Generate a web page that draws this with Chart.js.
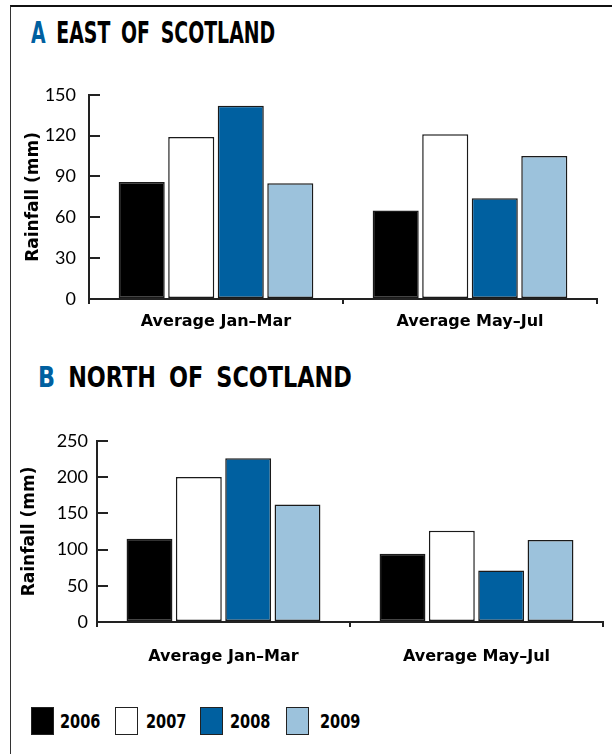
<!DOCTYPE html>
<html>
<head>
<meta charset="utf-8">
<script src="https://cdn.jsdelivr.net/npm/chart.js@4"></script>
<style>
  body { margin: 0; background: #fff; width: 612px; height: 754px; position: relative; overflow: hidden; font-family: Lato, sans-serif; }
  .frame { position: absolute; left: 10px; top: 5px; width: 700px; height: 800px; border-top: 2.5px solid #111; border-left: 1.5px solid #333; }
  .title { position: absolute; font-family: "DejaVu Sans Condensed", "DejaVu Sans", sans-serif; font-weight: bold; color: #000; white-space: nowrap; transform-origin: 0 0; word-spacing: 6px; }
  .title span { color: #0060a0; }
  .box { position: absolute; }
  canvas { position: absolute; left: 0; }
  #legend { position: absolute; top: 707px; left: 0; }
  .sw { position: absolute; top: 0; width: 21px; height: 26px; border: 1.2px solid #222; }
  .lab { position: absolute; top: 2px; font-family: "DejaVu Sans Condensed", "DejaVu Sans", sans-serif; font-weight: bold; font-size: 19px; line-height: 24px; transform: scaleX(0.85); transform-origin: 0 0; }
</style>
</head>
<body>
<div class="frame"></div>
<div class="title" id="titleA" style="left:31px; top:18px; font-size:30px; line-height:30px;"><span>A</span> EAST OF SCOTLAND</div>
<div class="title" id="titleB" style="left:38px; top:364px; font-size:28px; line-height:28px;"><span>B</span> NORTH OF SCOTLAND</div>
<div class="box" style="top:60px; width:612px; height:290px;"><canvas id="eastChart"></canvas></div>
<div class="box" style="top:410px; width:612px; height:280px;"><canvas id="northChart"></canvas></div>
<div id="legend"></div>
<script>
const categories = ['Average Jan–Mar', 'Average May–Jul'];
const years = ['2006', '2007', '2008', '2009'];
const barColors = ['#000000', '#ffffff', '#0060a0', '#9cc2dc'];

// East of Scotland rainfall (mm)
const east2006 = [86, 65];
const east2007 = [119, 121];
const east2008 = [142, 74];
const east2009 = [85, 105];
const eastTicks = [0, 30, 60, 90, 120, 150];

// North of Scotland rainfall (mm)
const north2006 = [115, 94];
const north2007 = [200, 126];
const north2008 = [226, 71];
const north2009 = [162, 113];
const northTicks = [0, 50, 100, 150, 200, 250];

const legendX = [31, 115, 200, 286];
const labelX = [60, 146, 230, 320];

// squeeze the headings to the width they take in the original
function fitWidth(id, w) {
    const el = document.getElementById(id);
    el.style.transform = 'scaleX(' + (w / el.offsetWidth) + ')';
}
fitWidth('titleA', 244);
fitWidth('titleB', 314);

function makeDatasets(series) {
    return series.map((vals, i) => ({
        label: years[i],
        data: vals,
        backgroundColor: barColors[i],
        borderColor: '#1a1a1a',
        borderWidth: 1.5,
        borderSkipped: false,
        categoryPercentage: 0.78,
        barPercentage: 0.93
    }));
}

function makeChart(id, series, ticks, opts) {
    const ctx = document.getElementById(id).getContext('2d');
    return new Chart(ctx, {
        type: 'bar',
        data: { labels: categories, datasets: makeDatasets(series) },
        options: {
            responsive: true,
            maintainAspectRatio: false,
            animation: false,
            layout: { padding: opts.padding },
            plugins: { legend: { display: false }, tooltip: { enabled: false } },
            scales: {
                x: {
                    afterFit: s => { s.height = opts.xHeight; },
                    grid: { drawOnChartArea: false, tickLength: 5, color: '#222', lineWidth: 2 },
                    border: { display: true, color: '#222', width: 2 },
                    ticks: { color: '#000', padding: opts.xPad, font: { family: 'DejaVu Sans', size: 16, weight: 'bold' } }
                },
                y: {
                    min: 0,
                    max: ticks[ticks.length - 1],
                    afterFit: s => { s.width = opts.yWidth; },
                    afterBuildTicks: s => { s.ticks = ticks.map(v => ({ value: v })); },
                    grid: { drawOnChartArea: false, tickLength: -11, color: '#222', lineWidth: 2 },
                    border: { display: true, color: '#222', width: 2 },
                    ticks: { color: '#000', padding: opts.yPad, font: { family: 'Lato', size: 18 } },
                    title: {
                        display: true,
                        text: 'Rainfall (mm)',
                        color: '#000',
                        padding: { top: opts.titlePad, bottom: 0 },
                        font: { family: 'DejaVu Sans', size: 17, weight: 'bold' }
                    }
                }
            }
        }
    });
}

makeChart('eastChart', [east2006, east2007, east2008, east2009], eastTicks,
    { padding: { top: 29, right: 15, bottom: 6, left: 0 }, xHeight: 45, yWidth: 89, yPad: 24, xPad: 8, titlePad: 23 });
makeChart('northChart', [north2006, north2007, north2008, north2009], northTicks,
    { padding: { top: 25, right: 9, bottom: 8, left: 0 }, xHeight: 60, yWidth: 97, yPad: 20, xPad: 20, titlePad: 19 });

// legend built from the series names and colours
const legend = document.getElementById('legend');
years.forEach((y, i) => {
    const sw = document.createElement('div');
    sw.className = 'sw';
    sw.style.left = legendX[i] + 'px';
    sw.style.background = barColors[i];
    legend.appendChild(sw);
    const lab = document.createElement('div');
    lab.className = 'lab';
    lab.style.left = labelX[i] + 'px';
    lab.textContent = y;
    legend.appendChild(lab);
});
</script>
</body>
</html>
